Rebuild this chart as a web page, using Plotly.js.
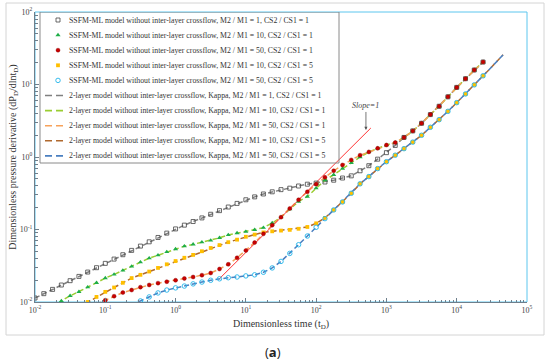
<!DOCTYPE html>
<html>
<head>
<meta charset="utf-8">
<script src="https://cdn.plot.ly/plotly-3.0.1.min.js"></script>
<style>html,body{margin:0;padding:0;background:#fff;}#chart{width:550px;height:363px;}</style>
</head>
<body>
<div id="chart"></div>
<script>
// Dimensionless time values of the sampled points
const tD = [0.01, 0.01334, 0.01778, 0.02371, 0.03162, 0.04217, 0.05623, 0.07499,
  0.1, 0.1334, 0.1778, 0.2371, 0.3162, 0.4217, 0.5623, 0.7499,
  1, 1.334, 1.778, 2.371, 3.162, 4.217, 5.623, 7.499,
  10, 13.34, 17.78, 23.71, 31.62, 42.17, 56.23, 74.99,
  100, 133.4, 177.8, 237.1, 316.2, 421.7, 562.3, 749.9,
  1000, 1334, 1778, 2371, 3162, 4217, 5623, 7499,
  10000, 13340, 17780, 23710];

// M2/M1 = 1, CS2/CS1 = 1
const s1 = [0.01135, 0.01303, 0.01493, 0.01714, 0.01968, 0.02254, 0.02588, 0.02972,
  0.03412, 0.03908, 0.04487, 0.05152, 0.05902, 0.06761, 0.07762, 0.08913,
  0.1019, 0.1148, 0.1288, 0.1445, 0.1622, 0.1820, 0.2042, 0.2291,
  0.2570, 0.2818, 0.3090, 0.3311, 0.3548, 0.3715, 0.3981, 0.4217,
  0.4365, 0.4519, 0.4786, 0.5129, 0.5495, 0.6457, 0.7586, 0.9333,
  1.148, 1.445, 1.862, 2.291, 2.917, 3.846, 5.012, 6.761,
  9.120, 12.02, 15.85, 20.42];

// M2/M1 = 10, CS2/CS1 = 1
const s2 = [null, null, 0.00794, 0.01035, 0.01216, 0.01380, 0.01603, 0.01841,
  0.02138, 0.02399, 0.02723, 0.03090, 0.03548, 0.04027, 0.04416, 0.04898,
  0.05370, 0.05888, 0.06237, 0.06683, 0.07079, 0.07674, 0.08414, 0.08913,
  0.09333, 0.09886, 0.1059, 0.1230, 0.1479, 0.1905, 0.2427, 0.2851,
  0.3715, 0.4786, 0.5689, 0.6918, 0.8318, 1.0, 1.175, 1.318,
  1.462, 1.585, 1.862, 2.291, 2.917, 3.846, 5.012, 6.761,
  9.120, 12.02, 15.85, 20.42];

// M2/M1 = 50, CS2/CS1 = 1
const s3 = [null, null, null, null, null, null, null, 0.00933,
  0.01059, 0.01202, 0.01349, 0.01462, 0.01603, 0.01718, 0.01820, 0.01905,
  0.01995, 0.02113, 0.02213, 0.02344, 0.02512, 0.02851, 0.03311, 0.04074,
  0.05129, 0.06607, 0.08710, 0.1148, 0.1479, 0.1950, 0.2570, 0.3311,
  0.4217, 0.5248, 0.6457, 0.7762, 0.9120, 1.059, 1.175, 1.318,
  1.462, 1.585, 1.862, 2.291, 2.917, 3.846, 5.012, 6.761,
  9.120, 12.02, 15.85, 20.42];

// M2/M1 = 10, CS2/CS1 = 5
const s4 = [null, null, null, null, null, 0.00851, 0.0100, 0.01175,
  0.01380, 0.01585, 0.01841, 0.02138, 0.02371, 0.02630, 0.02951, 0.03311,
  0.03673, 0.04074, 0.04467, 0.05012, 0.05559, 0.06095, 0.06683, 0.07244,
  0.07943, 0.08511, 0.09120, 0.09441, 0.09661, 0.09886, 0.1023, 0.1084,
  0.1216, 0.1445, 0.1862, 0.2399, 0.3162, 0.4266, 0.5370, 0.6918,
  0.8610, 1.059, 1.303, 1.603, 1.995, 2.570, 3.273, 4.266,
  5.623, 7.413, 9.886, 13.18];

// M2/M1 = 50, CS2/CS1 = 5
const s5 = [null, null, null, null, null, null, null, null,
  null, null, null, 0.00912, 0.01035, 0.01175, 0.01334, 0.01462,
  0.01567, 0.01660, 0.01778, 0.01884, 0.01995, 0.02089, 0.02163, 0.02213,
  0.02291, 0.02371, 0.02570, 0.02951, 0.03631, 0.04677, 0.06166, 0.08128,
  0.1072, 0.1413, 0.1862, 0.2399, 0.3162, 0.4266, 0.5370, 0.6918,
  0.8610, 1.059, 1.303, 1.603, 1.995, 2.570, 3.273, 4.266,
  5.623, 7.413, 9.886, 13.18];

// late-time continuation of the 2-layer model curves with CS2/CS1 = 5
const extT = [31620, 45700];
const extV = [17.58, 25.70];

// unit-slope reference line
const slopeT = [4.3, 600];
const slopeV = [0.0214, 2.51];

// axis ticks
const xTickVals = [0.01, 0.1, 1, 10, 100, 1000, 10000, 100000];
const xTickText = ['10<sup>-2</sup>', '10<sup>-1</sup>', '10<sup>0</sup>', '10<sup>1</sup>',
  '10<sup>2</sup>', '10<sup>3</sup>', '10<sup>4</sup>', '10<sup>5</sup>'];
const yTickVals = [0.01, 0.1, 1, 10, 100];
const yTickText = ['10<sup>-2</sup>', '10<sup>-1</sup>', '10<sup>0</sup>', '10<sup>1</sup>', '10<sup>2</sup>'];

const legendLabels = [
  "SSFM-ML model without inter-layer crossflow, M2 / M1 = 1, CS2 / CS1 = 1",
  "SSFM-ML model without inter-layer crossflow, M2 / M1 = 10, CS2 / CS1 = 1",
  "SSFM-ML model without inter-layer crossflow, M2 / M1 = 50, CS2 / CS1 = 1",
  "SSFM-ML model without inter-layer crossflow, M2 / M1 = 10, CS2 / CS1 = 5",
  "SSFM-ML model without inter-layer crossflow, M2 / M1 = 50, CS2 / CS1 = 5",
  "2-layer model without inter-layer crossflow, Kappa, M2 / M1 = 1, CS2 / CS1 = 1",
  "2-layer model without inter-layer crossflow, Kappa, M2 / M1 = 10, CS2 / CS1 = 1",
  "2-layer model without inter-layer crossflow, Kappa, M2 / M1 = 50, CS2 / CS1 = 1",
  "2-layer model without inter-layer crossflow, Kappa, M2 / M1 = 10, CS2 / CS1 = 5",
  "2-layer model without inter-layer crossflow, Kappa, M2 / M1 = 50, CS2 / CS1 = 5"
];

const markerStyles = [
  {symbol: 'square-open', size: 4, color: '#444', line: {width: 0.8, color: '#444'}},
  {symbol: 'triangle-up', size: 4.5, color: '#1fae48', line: {width: 0}},
  {symbol: 'circle', size: 4, color: '#c80000', line: {width: 0.4, color: '#8a0000'}},
  {symbol: 'square', size: 3.8, color: '#ffbf00', line: {width: 0}},
  {symbol: 'circle-open', size: 4.5, color: '#22b4ea', line: {width: 0.9, color: '#22b4ea'}}
];
const lineColors = ['#808080', '#9acd32', '#f7a25a', '#b0692e', '#4a7fc0'];
const DASH = '5px,3px';

const seriesVals = [s1, s2, s3, s4, s5];
const traces = [];
const lineOrder = [0, 1, 3, 2, 4];
lineOrder.forEach(i => {
  let x = tD.slice(), y = seriesVals[i].slice();
  if (i >= 3) { x = x.concat(extT); y = y.concat(extV); }
  traces.push({x: x, y: y, type: 'scatter', mode: 'lines', showlegend: false, hoverinfo: 'skip',
    line: {color: lineColors[i], width: 1.5, dash: DASH}});
});
traces.push({x: slopeT, y: slopeV, type: 'scatter', mode: 'lines', showlegend: false,
  line: {color: '#ff3333', width: 1}});
const markerOrder = [0, 1, 3, 4, 2];
markerOrder.forEach(i => {
  traces.push({x: tD, y: seriesVals[i], type: 'scatter', mode: 'markers', showlegend: false,
    marker: markerStyles[i]});
});

// custom legend (overlay axes in pixel units)
const LX0 = 40, LX1 = 339, LY0 = 12, LY1 = 163;
const rowY = i => 20 + 15.1 * i;
for (let i = 0; i < 5; i++) {
  traces.push({x: [58], y: [rowY(i)], xaxis: 'x2', yaxis: 'y2', type: 'scatter', mode: 'markers',
    showlegend: false, hoverinfo: 'skip', marker: markerStyles[i]});
}
for (let i = 0; i < 5; i++) {
  traces.push({x: [45, 63], y: [rowY(i + 5), rowY(i + 5)], xaxis: 'x2', yaxis: 'y2', type: 'scatter',
    mode: 'lines', showlegend: false, hoverinfo: 'skip',
    line: {color: lineColors[i], width: 1.6, dash: '7px,4px'}});
}

const serif = 'Liberation Serif, Times New Roman, serif';
const annotations = legendLabels.map((txt, i) => ({
  xref: 'x2', yref: 'y2', x: 67, y: rowY(i), xanchor: 'left', yanchor: 'middle',
  text: txt, showarrow: false, font: {family: serif, size: 7.8, color: '#333'}
}));
annotations.push({xref: 'x', yref: 'y', x: Math.log10(511), y: Math.log10(2.36),
  text: '<i>Slope=1</i>', showarrow: true, arrowhead: 2, arrowsize: 0.8, arrowwidth: 0.8,
  arrowcolor: '#555', ax: 0, ay: -24, font: {family: serif, size: 8, color: '#444'}});
annotations.push({xref: 'paper', yref: 'paper', x: 0.484, y: -0.172, xanchor: 'center', yanchor: 'middle',
  text: '(<b>a</b>)', showarrow: false, font: {family: 'Open Sans, sans-serif', size: 13, color: '#222'}});

const axisCol = '#6e7f8c';
const layout = {
  width: 550, height: 363,
  margin: {l: 35, r: 23, t: 12, b: 61},
  paper_bgcolor: '#fff', plot_bgcolor: '#fff',
  showlegend: false,
  xaxis: {
    type: 'log', range: [-2, 5], tickmode: 'array', tickvals: xTickVals, ticktext: xTickText,
    showgrid: false, zeroline: false, showline: true, linecolor: axisCol, linewidth: 1,
    ticks: 'inside', ticklen: 4, tickcolor: axisCol,
    minor: {ticks: 'inside', ticklen: 2.5, tickcolor: axisCol, showgrid: false, dtick: 'D1'},
    tickfont: {family: serif, size: 8, color: '#444'},
    title: {text: 'Dimensionless time (t<sub>D</sub>)', font: {family: serif, size: 10, color: '#333'}, standoff: 6}
  },
  yaxis: {
    type: 'log', range: [-2, 2], tickmode: 'array', tickvals: yTickVals, ticktext: yTickText,
    showgrid: false, zeroline: false, showline: true, linecolor: axisCol, linewidth: 1,
    ticks: 'inside', ticklen: 4, tickcolor: axisCol,
    minor: {ticks: 'inside', ticklen: 2.5, tickcolor: axisCol, showgrid: false, dtick: 'D1'},
    tickfont: {family: serif, size: 8, color: '#444'},
    title: {text: 'Dimensionless pressure derivative (dP<sub>D</sub>/dlnt<sub>D</sub>)', font: {family: serif, size: 10, color: '#333'}, standoff: 1}
  },
  xaxis2: {overlaying: 'x', range: [35, 527], visible: false, fixedrange: true},
  yaxis2: {overlaying: 'y', range: [302, 12], visible: false, fixedrange: true},
  shapes: [
    {type: 'rect', xref: 'paper', yref: 'paper', x0: 0, x1: 1, y0: 0, y1: 1,
      line: {color: '#5cc6ee', width: 1}, layer: 'below'},
    {type: 'rect', xref: 'paper', yref: 'paper', x0: -0.0589, x1: 1.0346, y0: -0.1138, y1: 1.031,
      line: {color: '#d4d4d4', width: 1}, layer: 'below'},
    {type: 'rect', xref: 'x2', yref: 'y2', x0: LX0, x1: LX1, y0: LY0, y1: LY1,
      line: {color: '#8a8a8a', width: 1}, layer: 'above'}
  ],
  annotations: annotations
};

Plotly.newPlot('chart', traces, layout, {staticPlot: true, displayModeBar: false});
</script>
</body>
</html>
